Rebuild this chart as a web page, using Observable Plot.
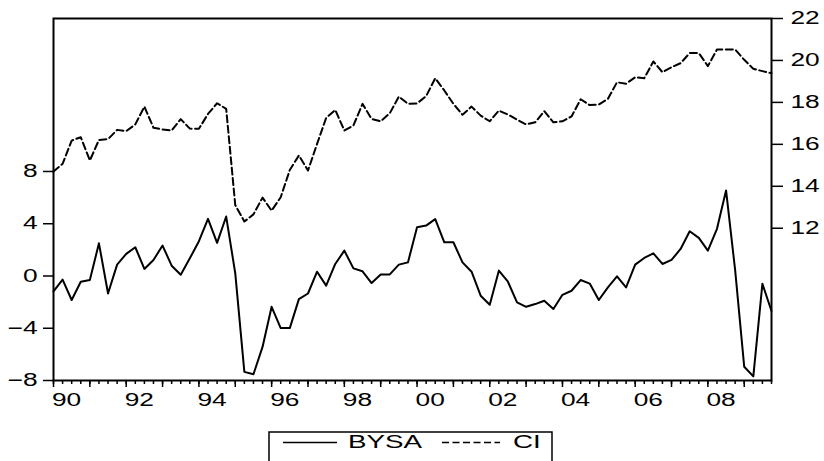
<!DOCTYPE html>
<html>
<head>
<meta charset="utf-8">
<script src="https://cdn.jsdelivr.net/npm/d3@7"></script>
<script src="https://cdn.jsdelivr.net/npm/@observablehq/plot@0.6"></script>
<style>
  html, body { margin: 0; padding: 0; background: #fff; overflow: hidden; width: 824px; height: 461px; }
  #wrap { position: relative; width: 824px; height: 461px; }
  #legend { position: absolute; left: 268px; top: 431px; }
  svg text { font-family: "Liberation Sans", Arial, sans-serif; }
</style>
</head>
<body>
<div id="wrap"></div>
<script>
// Quarterly series, 1990Q1 – 2009Q4
const startYear = 1990;

const bysa = [
  -1.18, -0.28, -1.84, -0.44, -0.31, 2.50, -1.34, 0.87, 1.69, 2.20,
  0.54, 1.23, 2.33, 0.79, 0.10, 1.35, 2.66, 4.37, 2.53, 4.55,
  0.20, -7.34, -7.52, -5.43, -2.36, -3.99, -3.99, -1.77, -1.34, 0.33,
  -0.74, 0.92, 1.94, 0.58, 0.36, -0.54, 0.12, 0.12, 0.87, 1.04,
  3.73, 3.86, 4.35, 2.58, 2.58, 1.04, 0.33, -1.51, -2.20, 0.41,
  -0.44, -2.02, -2.36, -2.15, -1.90, -2.53, -1.44, -1.13, -0.31, -0.58,
  -1.84, -0.87, -0.03, -0.87, 0.87, 1.38, 1.73, 0.92, 1.23, 2.07,
  3.42, 2.92, 1.94, 3.61, 6.55, 0.45, -6.95, -7.68, -0.59, -2.68
];

const ci = [
  14.70, 15.07, 16.18, 16.34, 15.23, 16.21, 16.25, 16.69, 16.63, 16.95,
  17.80, 16.79, 16.71, 16.66, 17.20, 16.75, 16.74, 17.45, 17.96, 17.69,
  13.10, 12.32, 12.66, 13.46, 12.84, 13.48, 14.78, 15.47, 14.75, 16.02,
  17.26, 17.64, 16.66, 16.90, 17.93, 17.21, 17.10, 17.48, 18.28, 17.93,
  17.95, 18.30, 19.15, 18.57, 17.93, 17.41, 17.80, 17.37, 17.10, 17.61,
  17.42, 17.18, 16.95, 17.05, 17.58, 17.05, 17.10, 17.33, 18.15, 17.87,
  17.90, 18.17, 18.96, 18.89, 19.20, 19.15, 19.95, 19.44, 19.68, 19.87,
  20.35, 20.35, 19.73, 20.52, 20.52, 20.52, 20.03, 19.60, 19.49, 19.39
];

const leftTicks = [-8, -4, 0, 4, 8];
const rightTicks = [12, 14, 16, 18, 20, 22];
const labelYears = [1990, 1992, 1994, 1996, 1998, 2000, 2002, 2004, 2006, 2008];
const seriesNames = ["BYSA", "CI"];

// Left scale carries BYSA; CI is drawn against the right scale, mapped onto the left one.
const leftDomain = [-8, 19.71];
const rightDomain = [4.74, 22];
const k = (leftDomain[1] - leftDomain[0]) / (rightDomain[1] - rightDomain[0]);
const toLeft = v => leftDomain[0] + (v - rightDomain[0]) * k;
const fromLeft = v => rightDomain[0] + (v - leftDomain[0]) / k;

const rows = bysa.map((v, i) => ({t: startYear + i / 4, bysa: v, ci: ci[i]}));
const quarterTicks = rows.map(d => d.t);
const yearTicks = quarterTicks.filter(t => Number.isInteger(t));

const font = "'Liberation Sans', Arial, sans-serif";

const chart = Plot.plot({
  width: 824,
  height: 420,
  marginTop: 18,
  marginBottom: 40,
  marginLeft: 53,
  marginRight: 53,
  style: {fontFamily: font, fontSize: "18px", color: "#000", background: "#fff"},
  x: {domain: [startYear, startYear + 19.75], axis: null},
  y: {domain: leftDomain, axis: null},
  marks: [
    // quarterly minor ticks, yearly longer ticks
    Plot.axisX({ticks: quarterTicks, tickSize: 4, strokeWidth: 1.5, tickFormat: () => "", label: null}),
    Plot.axisX({ticks: yearTicks, tickSize: 7, strokeWidth: 1.5, tickFormat: () => "", label: null}),
    Plot.axisX({
      ticks: labelYears, tickSize: 0, tickPadding: 13, textAnchor: "start", dx: -1.5,
      tickFormat: d => String(d % 100).padStart(2, "0"), label: null, fontSize: 18
    }),
    Plot.axisY({ticks: leftTicks, tickSize: 10, tickPadding: 6, strokeWidth: 1.5, label: null, fontSize: 18}),
    Plot.axisY({
      anchor: "right", ticks: rightTicks.map(toLeft), tickSize: 11, tickPadding: 8, strokeWidth: 1.5,
      tickFormat: d => String(Math.round(fromLeft(d))), label: null, fontSize: 18
    }),
    Plot.line(rows, {x: "t", y: "bysa", stroke: "#000", strokeWidth: 2}),
    Plot.line(rows, {x: "t", y: d => toLeft(d.ci), stroke: "#000", strokeWidth: 2, strokeDasharray: "7,3.5"}),
    Plot.frame({stroke: "#000", strokeWidth: 2})
  ]
});

const wrap = document.getElementById("wrap");
wrap.appendChild(chart);

// Legend box below the plot (its lower edge runs past the page)
const legend = d3.create("svg")
  .attr("id", "legend")
  .attr("width", 288)
  .attr("height", 32)
  .style("overflow", "visible");
legend.append("path")
  .attr("d", "M1,40 V1 H284 V40")
  .attr("fill", "none")
  .attr("stroke", "#000")
  .attr("stroke-width", 1.5);
const items = [
  {name: seriesNames[0], x0: 15, x1: 69, tx: 80, dash: null},
  {name: seriesNames[1], x0: 174, x1: 232, tx: 245, dash: "7,3.5"}
];
for (const it of items) {
  legend.append("line")
    .attr("x1", it.x0).attr("x2", it.x1).attr("y1", 11.5).attr("y2", 11.5)
    .attr("stroke", "#000").attr("stroke-width", 1.5)
    .attr("stroke-dasharray", it.dash);
  legend.append("text")
    .attr("class", "legend-label")
    .attr("x", it.tx).attr("y", 16.5)
    .attr("font-size", 18.5)
    .attr("fill", "#000")
    .style("font-family", font)
    .text(it.name);
}
wrap.appendChild(legend.node());

// Wide lettering: stretch every label horizontally
for (const el of wrap.querySelectorAll("text")) {
  const w = el.getComputedTextLength();
  const stretch = el.classList.contains("legend-label") ? 1.5 : 1.46;
  if (w > 0) {
    el.setAttribute("textLength", (w * stretch).toFixed(2));
    el.setAttribute("lengthAdjust", "spacingAndGlyphs");
  }
}
</script>
</body>
</html>
